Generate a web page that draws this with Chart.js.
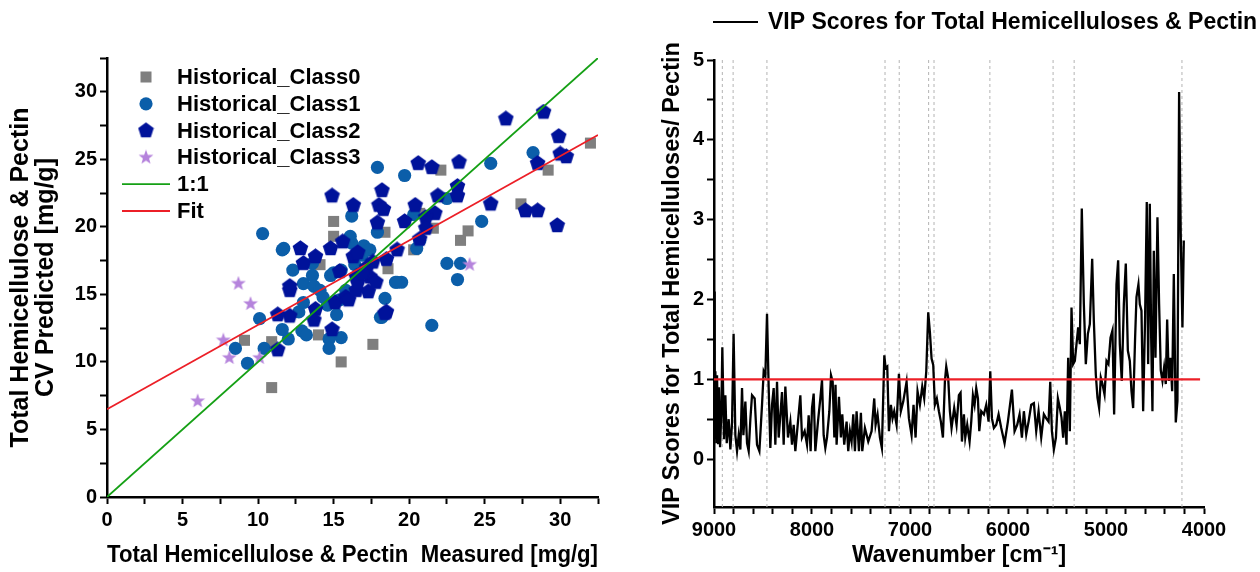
<!DOCTYPE html>
<html lang="en">

<head>
    <meta charset="UTF-8">
    <title>CV prediction and VIP scores</title>
    <script src="https://cdn.jsdelivr.net/npm/chart.js"></script>
    <style>
        body { margin: 0; background: #fff; }
        .panel { position: absolute; top: 0; }
    </style>
</head>

<body>
    <div class="panel" style="left:0"><canvas id="cvChart" width="620" height="572"></canvas></div>
    <div class="panel" style="left:640px"><canvas id="vipChart" width="620" height="572"></canvas></div>

    <script>
        // measured vs CV predicted, [measured, predicted]
        const class0 = [[10.9, 8.1], [9.1, 11.6], [10.9, 11.5], [14.0, 12.0], [15.5, 10.0], [17.6, 11.3], [14.1, 17.2],
            [18.6, 16.9], [15.0, 20.4], [15.0, 19.3], [18.4, 19.6], [20.3, 18.3], [22.1, 24.2], [21.6, 19.9], [23.9, 19.7],
            [23.4, 19.0], [27.4, 21.7], [29.2, 24.2], [32.0, 26.2], [20.7, 21.0]];
        const class1 = [[10.1, 13.2], [8.5, 11.0], [9.3, 9.9], [10.4, 11.0], [11.6, 12.4], [12.0, 11.7], [12.9, 12.3],
            [12.7, 13.7], [13.0, 14.4], [12.3, 16.8], [13.0, 15.8], [13.6, 16.4], [13.7, 15.6], [14.1, 15.3], [15.2, 13.5],
            [14.7, 11.7], [14.7, 11.0], [15.5, 11.8], [14.6, 14.2], [14.8, 16.4], [18.4, 14.7], [18.1, 13.3], [19.2, 15.9],
            [11.6, 18.3], [10.3, 19.5], [11.7, 18.4], [17.9, 24.4], [19.7, 23.8], [16.2, 20.8], [17.9, 19.6], [16.2, 18.8],
            [17.0, 18.6], [17.4, 18.3], [13.6, 17.3], [15.0, 16.6], [19.5, 15.9], [20.3, 20.9], [25.4, 24.7], [28.2, 25.5],
            [22.5, 22.1], [24.8, 20.4], [20.7, 19.0], [20.5, 18.4], [22.5, 17.3], [23.4, 17.3], [23.2, 16.1], [19.1, 15.9],
            [18.2, 13.3], [21.5, 12.7], [16.1, 19.3], [15.5, 16.8], [16.4, 17.2], [16.9, 17.9], [15.8, 15.3], [15.4, 14.6],
            [14.3, 14.8], [16.6, 16.0], [13.2, 12.0]];
        const class2 = [[12.1, 15.3], [12.1, 13.4], [11.3, 10.9], [11.3, 13.5], [13.0, 17.3], [13.8, 17.8], [13.8, 13.9],
            [13.7, 13.1], [14.9, 12.4], [15.1, 14.4], [15.8, 14.8], [16.0, 14.6], [16.5, 15.3], [16.5, 16.3], [17.3, 15.2],
            [17.4, 16.3], [18.5, 13.7], [16.3, 17.8], [15.4, 16.7], [14.9, 22.3], [16.3, 21.6], [18.0, 21.6], [18.2, 22.7],
            [17.9, 20.3], [12.8, 18.4], [12.1, 15.6], [14.8, 18.4], [15.6, 18.9], [16.6, 18.1], [19.7, 20.4], [20.4, 21.6],
            [20.6, 24.7], [17.2, 17.0], [16.6, 15.9], [26.4, 28.0], [28.9, 28.5], [29.9, 26.7], [30.0, 25.4], [30.4, 25.2],
            [28.5, 24.7], [21.5, 24.4], [23.3, 24.8], [23.2, 23.0], [21.9, 22.3], [23.2, 22.3], [18.3, 21.3], [21.7, 21.0],
            [21.1, 20.7], [21.1, 19.9], [25.4, 21.7], [27.7, 21.2], [28.5, 21.2], [29.8, 20.1], [20.7, 19.1], [19.2, 18.3],
            [18.5, 17.6], [18.4, 13.6], [16.9, 16.6], [17.6, 17.4], [17.8, 15.9]];
        const class3 = [[8.7, 15.8], [9.5, 14.3], [7.7, 11.6], [8.1, 10.3], [10.1, 10.3], [6.0, 7.1], [24.0, 17.2]];
        const oneToOne = [[0, 0], [32.5, 32.5]];
        const fitLine = [[0, 6.5], [32.5, 26.8]];
        const cvTicks = [0, 2.5, 5, 7.5, 10, 12.5, 15, 17.5, 20, 22.5, 25, 27.5, 30, 32.5];

        // VIP scores
        const wavenumber = [
            9000, 8993, 8986, 8976, 8969, 8958, 8950, 8938, 8925, 8915, 8898, 8884, 8870, 8850, 8833, 8816, 8800, 8782,
            8765, 8748, 8731, 8714, 8700, 8680, 8663, 8646, 8629, 8612, 8585, 8561, 8537, 8510, 8493, 8476, 8459, 8442,
            8425, 8408, 8391, 8374, 8357, 8340, 8326, 8306, 8289, 8272, 8245, 8221, 8204, 8187, 8170, 8143, 8119, 8102,
            8075, 8051, 8034, 8014, 8000, 7983, 7966, 7939, 7915, 7898, 7881, 7864, 7847, 7823, 7806, 7789, 7772, 7760,
            7749, 7725, 7705, 7691, 7671, 7647, 7630, 7613, 7596, 7579, 7562, 7545, 7521, 7501, 7487, 7460, 7426, 7392,
            7365, 7351, 7331, 7307, 7287, 7262, 7249, 7232, 7215, 7195, 7178, 7161, 7137, 7113, 7093, 7069, 7035, 7011,
            6984, 6964, 6943, 6923, 6899, 6875, 6855, 6834, 6814, 6797, 6780, 6763, 6746, 6726, 6705, 6685, 6664, 6644,
            6630, 6610, 6593, 6576, 6549, 6525, 6501, 6484, 6470, 6450, 6436, 6416, 6392, 6375, 6358, 6341, 6324, 6307,
            6293, 6273, 6246, 6222, 6198, 6181, 6164, 6144, 6120, 6096, 6069, 6035, 6001, 5960, 5933, 5906, 5882, 5858,
            5838, 5814, 5790, 5763, 5736, 5712, 5688, 5661, 5634, 5610, 5586, 5569, 5552, 5532, 5511, 5491, 5471, 5454,
            5437, 5420, 5403, 5386, 5369, 5352, 5335, 5318, 5301, 5284, 5267, 5247, 5226, 5206, 5185, 5165, 5141, 5124,
            5104, 5087, 5070, 5053, 5036, 5015, 4995, 4975, 4954, 4934, 4917, 4893, 4876, 4859, 4839, 4818, 4798, 4777,
            4757, 4740, 4723, 4703, 4689, 4669, 4655, 4638, 4621, 4601, 4584, 4570, 4553, 4539, 4526, 4512, 4495, 4475,
            4458, 4441, 4424, 4407, 4390, 4376, 4359, 4342, 4325, 4308, 4288, 4271, 4254, 4237, 4220, 4206];
        const vipScore = [
            2.1, 0.25, 1.1, 0.2, 1.05, 0.2, 0.9, 0.15, 0.6, 1.4, 0.25, 0.8, 0.2, 0.5, 0.12, 0.45, 1.57, 0.3,
            0.1, 0.3, 0.12, 0.89, 0.3, 0.72, 0.2, 0.1, 0.5, 0.8, 0.76, 0.18, 0.1, 0.68, 1.1, 1.05, 1.82, 0.89,
            0.14, 0.68, 0.89, 0.18, 0.97, 0.27, 0.5, 0.84, 0.18, 0.91, 0.27, 0.47, 0.18, 0.43, 0.1, 0.47, 0.8, 0.27,
            0.35, 0.18, 0.55, 0.1, 0.64, 0.82, 0.1, 0.47, 0.76, 0.99, 0.3, 0.14, 0.27, 0.6, 1.05, 0.97, 0.27, 0.93,
            0.18, 0.78, 0.27, 0.56, 0.18, 0.47, 0.1, 0.35, 0.22, 0.56, 0.1, 0.6, 0.1, 0.58, 0.1, 0.39, 0.22, 0.35,
            0.76, 0.43, 0.56, 0.27, 0.14, 1.3, 1.14, 1.16, 0.35, 0.68, 0.51, 0.6, 0.43, 1.07, 0.6, 0.72, 0.97, 0.51,
            0.3, 0.68, 0.27, 0.85, 0.68, 0.91, 0.76, 1.1, 1.84, 1.59, 1.26, 1.18, 0.68, 0.76, 0.6, 0.47, 0.27, 0.97,
            1.16, 1.01, 0.6, 0.39, 0.64, 0.43, 0.8, 0.83, 0.22, 0.56, 0.27, 0.43, 0.22, 0.47, 0.8, 0.68, 0.89, 0.76,
            0.35, 0.6, 0.56, 0.68, 0.47, 1.1, 0.51, 0.39, 0.43, 0.56, 0.39, 0.2, 0.47, 0.87, 0.35, 0.43, 0.56, 0.27,
            0.6, 0.31, 0.47, 0.68, 0.7, 0.35, 0.6, 0.27, 0.56, 0.51, 0.47, 0.97, 0.35, 0.12, 0.27, 0.76, 0.64, 0.52,
            0.27, 0.6, 0.18, 1.27, 0.35, 1.9, 1.19, 1.23, 1.44, 1.65, 1.44, 3.14, 1.94, 1.19, 1.57, 1.69, 2.51, 1.73,
            1.06, 0.77, 0.64, 1.02, 0.94, 0.81, 1.23, 1.19, 1.52, 1.61, 0.56, 2.19, 2.49, 1.44, 0.98, 1.94, 2.45, 1.36,
            1.23, 0.85, 0.64, 1.52, 2.03, 2.19, 1.94, 1.86, 0.6, 1.78, 3.22, 1.19, 3.2, 1.52, 0.6, 2.61, 1.27, 3.03,
            1.94, 1.11, 0.98, 1.15, 0.94, 1.75, 0.98, 1.27, 0.85, 2.32, 0.46, 0.73, 4.6, 2.78, 1.65, 2.74];
        const thresholdLine = [[9000, 1], [4040, 1]];
        const markedBands = [8915, 8805, 8460, 7255, 7110, 6810, 6755, 6185, 5540, 5325, 4225];
        const vipXTicks = [9000, 8800, 8600, 8400, 8200, 8000, 7800, 7600, 7400, 7200, 7000, 6800, 6600, 6400, 6200,
            6000, 5800, 5600, 5400, 5200, 5000, 4800, 4600, 4400, 4200, 4000];
        const vipYTicks = [0, 0.5, 1, 1.5, 2, 2.5, 3, 3.5, 4, 4.5, 5];

        const FONT = "'Liberation Sans', Arial, sans-serif";
        const COL0 = '#7f7f7f', COL1 = '#0b5ea9', COL2 = '#00129a', COL3 = '#b583dc';
        const GREEN = '#15a015', RED = '#ec1f27';

        Chart.defaults.font.family = FONT;
        Chart.defaults.font.weight = 'bold';
        Chart.defaults.color = '#000';

        const toPts = arr => arr.map(([x, y]) => ({ x, y }));

        // little canvases used as point styles
        function shapeImage(size, color, pts) {
            const c = document.createElement('canvas');
            c.width = size; c.height = size;
            const g = c.getContext('2d');
            g.fillStyle = color;
            g.beginPath();
            pts.forEach(([x, y], i) => i ? g.lineTo(x, y) : g.moveTo(x, y));
            g.closePath();
            g.fill();
            return c;
        }
        function polyPoints(size, n, rOut, rIn) {
            const pts = [];
            const steps = rIn ? n * 2 : n;
            for (let i = 0; i < steps; i++) {
                const r = rIn && i % 2 ? rIn : rOut;
                const a = -Math.PI / 2 + i * 2 * Math.PI / steps;
                pts.push([size / 2 + r * Math.cos(a), size / 2 + r * Math.sin(a)]);
            }
            return pts;
        }
        const pentagonImg = shapeImage(17, COL2, polyPoints(17, 5, 8.2));
        const starImg = shapeImage(16, COL3, polyPoints(16, 5, 7.8, 3.2));

        function drawMarker(ctx, ds, x, y) {
            ctx.save();
            ctx.fillStyle = ds.backgroundColor;
            if (ds.showLine) {
                ctx.strokeStyle = ds.borderColor;
                ctx.lineWidth = ds.borderWidth;
                ctx.beginPath();
                ctx.moveTo(x - 24, y);
                ctx.lineTo(x + 24, y);
                ctx.stroke();
            } else if (ds.pointStyle === 'rect') {
                ctx.fillRect(x - 5.5, y - 5.5, 11, 11);
            } else if (ds.pointStyle === 'circle') {
                ctx.beginPath();
                ctx.arc(x, y, ds.pointRadius, 0, Math.PI * 2);
                ctx.fill();
            } else {
                const img = ds.pointStyle;
                ctx.drawImage(img, x - img.width / 2, y - img.height / 2);
            }
            ctx.restore();
        }

        const cvLegend = {
            id: 'cvLegend',
            afterDraw(chart) {
                const ctx = chart.ctx;
                chart.data.datasets.forEach((ds, i) => {
                    const y = 77 + i * 26.8;
                    drawMarker(ctx, ds, 146, y);
                    ctx.save();
                    ctx.font = 'bold 22px ' + FONT;
                    ctx.fillStyle = '#000';
                    ctx.textBaseline = 'middle';
                    ctx.fillText(ds.label, 177, y + 1);
                    ctx.restore();
                });
            }
        };

        const vipLegend = {
            id: 'vipLegend',
            afterDraw(chart) {
                const ctx = chart.ctx;
                const ds = chart.data.datasets[0];
                ctx.save();
                ctx.strokeStyle = '#000';
                ctx.lineWidth = 2;
                ctx.beginPath();
                ctx.moveTo(73, 22);
                ctx.lineTo(118, 22);
                ctx.stroke();
                ctx.font = 'bold 23px ' + FONT;
                ctx.fillStyle = '#000';
                ctx.textBaseline = 'middle';
                ctx.fillText(ds.label, 128, 23);
                ctx.restore();
            }
        };

        function axisStyle(extra) {
            return Object.assign({
                type: 'linear',
                grid: { drawOnChartArea: false, tickLength: 7, tickWidth: 2, tickColor: '#000' },
                border: { color: '#000', width: 2.5 }
            }, extra);
        }

        new Chart(document.getElementById('cvChart'), {
            type: 'scatter',
            data: {
                datasets: [
                    { label: 'Historical_Class0', data: toPts(class0), pointStyle: 'rect', pointRadius: 7.8, backgroundColor: COL0, borderWidth: 0, order: 4 },
                    { label: 'Historical_Class1', data: toPts(class1), pointStyle: 'circle', pointRadius: 6.6, backgroundColor: COL1, borderWidth: 0, order: 3 },
                    { label: 'Historical_Class2', data: toPts(class2), pointStyle: pentagonImg, pointRadius: 8, backgroundColor: COL2, borderWidth: 0, order: 2 },
                    { label: 'Historical_Class3', data: toPts(class3), pointStyle: starImg, pointRadius: 8, backgroundColor: COL3, borderWidth: 0, order: 1 },
                    { label: '1:1', data: toPts(oneToOne), showLine: true, pointRadius: 0, borderColor: GREEN, borderWidth: 1.8, order: 0 },
                    { label: 'Fit', data: toPts(fitLine), showLine: true, pointRadius: 0, borderColor: RED, borderWidth: 1.8, order: 0 }
                ]
            },
            options: {
                responsive: false,
                devicePixelRatio: 1,
                animation: false,
                layout: { padding: { top: 58, right: 22, left: 0, bottom: 0 } },
                plugins: { legend: { display: false }, tooltip: { enabled: false } },
                scales: {
                    x: axisStyle({
                        min: 0, max: 32.5,
                        afterBuildTicks: s => { s.ticks = cvTicks.map(v => ({ value: v })); },
                        afterFit: s => { s.height = 75; },
                        ticks: { autoSkip: false, maxRotation: 0, padding: 4, font: { size: 20, weight: 'bold' }, callback: v => v % 5 === 0 ? v : '' },
                        title: { display: true, text: 'Total Hemicellulose & Pectin  Measured [mg/g]', font: { size: 23, weight: 'bold' }, padding: { top: 0, bottom: 3 } }
                    }),
                    y: axisStyle({
                        min: 0, max: 32.5,
                        afterBuildTicks: s => { s.ticks = cvTicks.map(v => ({ value: v })); },
                        afterFit: s => { s.width = 107; },
                        ticks: { autoSkip: false, padding: 3, font: { size: 20, weight: 'bold' }, callback: v => v % 5 === 0 ? v : '' },
                        title: { display: true, text: ['Total Hemicellulose & Pectin', 'CV Predicted [mg/g]'], font: { size: 25, weight: 'bold', lineHeight: 1.0 }, padding: { top: 9, bottom: 0 } }
                    })
                }
            },
            plugins: [cvLegend]
        });

        const bandDatasets = markedBands.map(w => ({
            label: 'band ' + w,
            data: [{ x: w, y: -0.6 }, { x: w, y: 5 }],
            showLine: true, pointRadius: 0, borderColor: '#b4b4b4', borderWidth: 1, borderDash: [3, 3], order: 5
        }));

        new Chart(document.getElementById('vipChart'), {
            type: 'scatter',
            data: {
                datasets: [
                    { label: 'VIP Scores for Total Hemicelluloses & Pectin', data: wavenumber.map((w, i) => ({ x: w, y: vipScore[i] })), showLine: true, pointRadius: 0, borderColor: '#000', borderWidth: 2.3, order: 2 },
                    { label: 'threshold', data: toPts(thresholdLine), showLine: true, pointRadius: 0, borderColor: RED, borderWidth: 2.2, order: 1 },
                    ...bandDatasets
                ]
            },
            options: {
                responsive: false,
                devicePixelRatio: 1,
                animation: false,
                layout: { padding: { top: 60, right: 56, left: 0, bottom: 0 } },
                plugins: { legend: { display: false }, tooltip: { enabled: false } },
                scales: {
                    x: axisStyle({
                        min: 4000, max: 9000, reverse: true,
                        afterBuildTicks: s => { s.ticks = vipXTicks.map(v => ({ value: v })); },
                        afterFit: s => { s.height = 65; },
                        ticks: { autoSkip: false, maxRotation: 0, padding: 4, font: { size: 20, weight: 'bold' }, callback: v => v % 1000 === 0 ? v : '' },
                        title: { display: true, text: 'Wavenumber [cm\u207B\u00B9]', font: { size: 23, weight: 'bold' }, padding: { top: 0, bottom: 3 } }
                    }),
                    y: axisStyle({
                        min: -0.6, max: 5,
                        afterBuildTicks: s => { s.ticks = vipYTicks.map(v => ({ value: v })); },
                        afterFit: s => { s.width = 74; },
                        ticks: { autoSkip: false, padding: 3, font: { size: 20, weight: 'bold' }, callback: v => Number.isInteger(v) ? v : '' },
                        title: { display: true, text: 'VIP Scores for Total Hemicelluloses/ Pectin', font: { size: 23.5, weight: 'bold' }, padding: { top: 18, bottom: 0 } }
                    })
                }
            },
            plugins: [vipLegend]
        });
    </script>
</body>

</html>
